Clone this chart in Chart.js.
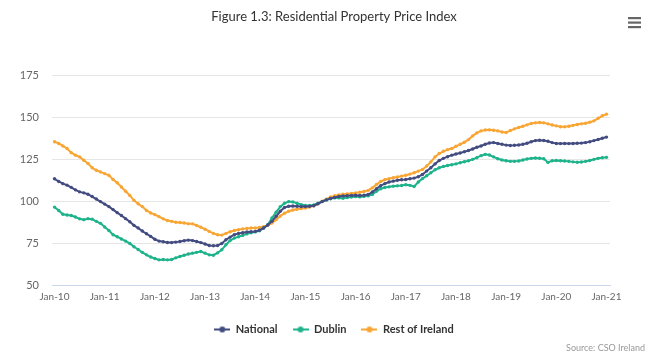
<!DOCTYPE html>
<html>
<head>
<meta charset="utf-8">
<script src="https://cdn.jsdelivr.net/npm/chart.js@4.4.0/dist/chart.umd.min.js"></script>
<style>
html,body{margin:0;padding:0;background:#fff;}
#wrap{width:650px;height:360px;position:relative;}
</style>
</head>
<body>
<div id="wrap"><canvas id="c" width="650" height="360"></canvas></div>
<script>
const titleText = 'Figure 1.3: Residential Property Price Index';
const sourceText = 'Source: CSO Ireland';
const tickLabels = ['Jan-10','Jan-11','Jan-12','Jan-13','Jan-14','Jan-15','Jan-16','Jan-17','Jan-18','Jan-19','Jan-20','Jan-21'];
const seriesNames = ['National','Dublin','Rest of Ireland'];

const national = [
113.4,111.8,110.5,109.6,108.3,106.8,105.6,105.0,104.2,102.8,101.3,99.8,
98.3,96.8,95.0,93.2,91.5,89.6,87.8,85.6,84.0,82.2,80.6,79.0,
77.3,76.2,75.8,75.4,75.3,75.6,76.0,76.4,76.8,76.5,76.0,75.3,
74.5,73.6,73.4,73.6,74.8,77.0,78.6,80.0,80.8,81.2,81.6,81.8,
82.0,82.7,84.0,85.8,88.0,91.0,94.0,96.3,97.0,97.2,97.0,96.8,
96.8,97.0,97.3,98.5,99.8,100.8,101.6,102.3,102.8,103.2,103.3,103.5,
103.6,103.4,103.6,104.0,105.5,107.5,109.3,110.5,111.5,112.0,112.5,112.8,
113.0,113.4,113.8,114.6,116.0,118.0,120.0,122.3,124.3,125.6,126.6,127.5,
128.2,128.8,129.5,130.3,131.2,132.2,133.0,134.0,134.8,135.0,134.5,134.0,
133.5,133.3,133.4,133.6,134.0,134.6,135.5,136.2,136.4,136.3,135.8,135.0,
134.5,134.4,134.5,134.4,134.5,134.6,134.7,135.0,135.5,136.2,136.9,137.6,
138.3];

const dublin = [
96.5,94.5,92.2,91.8,91.5,90.6,89.5,89.0,89.6,89.3,88.0,86.8,
84.6,82.5,80.0,78.8,77.5,76.2,74.8,72.8,71.2,69.5,68.0,66.7,
65.8,65.0,65.2,65.0,65.2,66.2,67.0,67.8,68.5,69.0,69.5,70.0,
69.0,68.0,67.8,69.2,71.0,74.0,76.5,78.0,78.8,79.6,80.5,81.2,
81.7,82.4,84.0,86.0,90.0,93.5,96.8,98.8,99.8,99.6,98.8,98.0,
97.5,97.4,97.8,98.8,99.8,100.8,101.5,102.0,102.0,101.8,102.2,102.5,
102.8,102.6,102.9,103.2,104.0,106.0,107.5,108.2,108.6,109.0,109.2,109.4,
109.8,109.5,108.8,111.5,113.5,115.2,117.0,118.8,120.0,120.8,121.3,121.8,
122.3,123.0,123.6,124.2,125.0,126.0,127.2,128.0,127.6,126.5,125.4,124.6,
124.2,123.8,123.8,124.0,124.6,125.2,125.6,125.8,125.7,125.4,123.2,124.2,
124.3,124.2,124.0,123.8,123.5,123.3,123.4,123.8,124.3,125.0,125.6,126.0,
126.2];

const restOfIreland = [
135.5,134.5,133.0,131.5,129.0,127.5,126.5,124.5,122.5,120.0,118.5,117.5,
116.5,115.5,113.0,111.0,108.5,106.0,103.5,100.5,98.5,96.8,94.5,93.0,
92.0,90.8,89.5,88.5,88.0,87.5,87.3,87.0,86.5,86.5,85.5,84.5,
83.3,82.0,80.8,80.0,79.8,80.8,81.8,82.5,83.0,83.5,83.8,84.0,
84.0,84.3,84.8,85.6,87.0,89.0,91.2,92.8,94.0,94.8,95.2,95.6,
96.0,96.6,97.3,98.5,100.0,101.2,102.5,103.3,103.8,104.2,104.4,104.6,
105.0,105.4,105.8,106.5,108.0,110.0,111.8,112.8,113.5,114.0,114.5,115.0,
115.5,116.2,117.0,118.0,119.0,121.0,123.5,126.5,128.5,129.8,130.8,131.5,
132.8,134.0,135.2,136.8,139.0,140.8,142.0,142.5,142.6,142.4,142.0,141.3,
141.0,142.2,143.2,144.0,144.8,145.6,146.4,146.8,147.0,146.8,146.2,145.5,
145.0,144.5,144.4,144.8,145.3,145.8,146.2,146.6,147.2,148.0,149.5,151.0,
152.0];

const colors = ['#434c80', '#1eb38b', '#f8a533'];
const seriesData = [national, dublin, restOfIreland];

function legendIcon(color){
  const c = document.createElement('canvas');
  c.width = 16; c.height = 8;
  const g = c.getContext('2d');
  g.strokeStyle = color; g.lineWidth = 2;
  g.beginPath(); g.moveTo(0,4); g.lineTo(16,4); g.stroke();
  g.fillStyle = color;
  g.beginPath(); g.arc(8,4,3,0,Math.PI*2); g.fill();
  return c;
}

const FONT = 'Lato, "Open Sans", sans-serif';

const extras = {
  id: 'extras',
  afterDraw(chart){
    const ctx = chart.ctx;
    ctx.save();
    ctx.fillStyle = '#666';
    for (let i = 0; i < 3; i++) ctx.fillRect(628, 17 + i*4.5, 13, 2.2);
    ctx.font = '9px ' + FONT;
    ctx.fillStyle = '#999';
    ctx.textAlign = 'right';
    ctx.textBaseline = 'middle';
    ctx.fillText(sourceText, 645, 348);
    ctx.restore();
  }
};

const tickValues = tickLabels.map((_, i) => i * 12);

new Chart(document.getElementById('c'), {
  type: 'line',
  data: {
    datasets: seriesData.map((arr, k) => ({
      label: seriesNames[k],
      data: arr.map((v, i) => ({x: i, y: v})),
      borderColor: colors[k],
      backgroundColor: colors[k],
      borderWidth: 2,
      pointStyle: 'circle',
      pointRadius: 1.7,
      pointBorderWidth: 0,
      pointBackgroundColor: colors[k],
      tension: 0
    }))
  },
  options: {
    responsive: false,
    animation: false,
    devicePixelRatio: 1,
    layout: { padding: { left: 18, right: 0, top: 0, bottom: 15 } },
    scales: {
      x: {
        type: 'linear',
        min: -0.6,
        max: 132.84,
        afterBuildTicks: (s) => { s.ticks = tickValues.map(v => ({value: v})); },
        grid: { display: false, drawTicks: false },
        border: { display: true, color: '#ccd6eb', width: 1 },
        ticks: {
          autoSkip: false, maxRotation: 0, padding: 6,
          color: '#666', font: { family: FONT, size: 10 },
          callback: (v) => tickLabels[Math.round(v / 12)]
        }
      },
      y: {
        min: 50, max: 175,
        afterFit: (s) => { s.width = 34; },
        grid: { color: '#e6e6e6', drawTicks: false, lineWidth: 1 },
        border: { display: false },
        ticks: { stepSize: 25, padding: 13, color: '#666', font: { family: FONT, size: 11 } }
      },
      y2: {
        position: 'right',
        display: true,
        afterFit: (s) => { s.width = 40; },
        grid: { display: false, drawTicks: false },
        border: { display: false },
        ticks: { display: false }
      }
    },
    plugins: {
      title: {
        display: true,
        text: titleText,
        color: '#333',
        font: { family: FONT, size: 13, weight: 'normal' },
        padding: { top: 9, bottom: 51 }
      },
      legend: {
        display: true,
        position: 'bottom',
        labels: {
          usePointStyle: true,
          pointStyleWidth: 16,
          boxHeight: 8,
          padding: 15,
          color: '#333',
          font: { family: FONT, size: 11, weight: 'bold' },
          generateLabels: (chart) => chart.data.datasets.map((d, i) => ({
            text: d.label,
            fillStyle: colors[i],
            strokeStyle: colors[i],
            fontColor: '#333',
            pointStyle: legendIcon(colors[i]),
            lineWidth: 0,
            hidden: false,
            datasetIndex: i
          }))
        }
      },
      tooltip: { enabled: false }
    }
  },
  plugins: [extras]
});
</script>
</body>
</html>
